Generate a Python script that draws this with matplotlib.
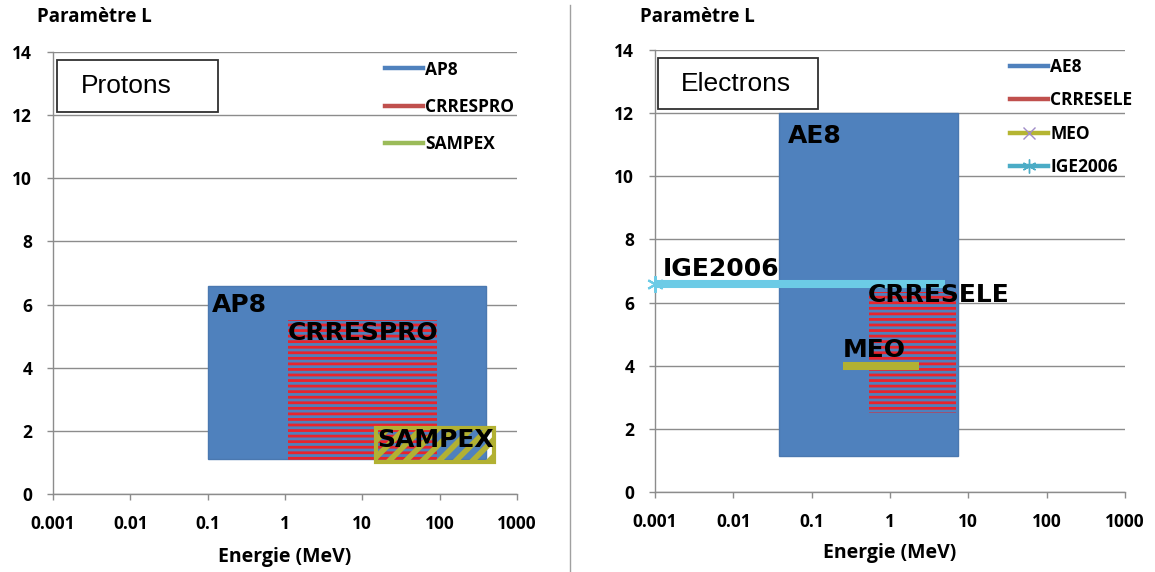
import matplotlib
matplotlib.use('Agg')
import matplotlib.pyplot as plt
from matplotlib.patches import Rectangle
from matplotlib.lines import Line2D
from matplotlib.ticker import FixedLocator, NullLocator

# ---------------- data ----------------
energy_ticks = [0.001, 0.01, 0.1, 1, 10, 100, 1000]
energy_tick_labels = ['0.001', '0.01', '0.1', '1', '10', '100', '1000']
L_ticks = [0, 2, 4, 6, 8, 10, 12, 14]

proton_models = ['AP8', 'CRRESPRO', 'SAMPEX']
proton_emin = [0.1, 1.1, 15]
proton_emax = [400, 92, 500]
proton_lmin = [1.1, 1.0, 1.0]
proton_lmax = [6.6, 5.5, 2.1]

electron_models = ['AE8', 'CRRESELE']
electron_emin = [0.038, 0.54]
electron_emax = [7.4, 7.0]
electron_lmin = [1.15, 2.5]
electron_lmax = [12.0, 6.35]

meo_energy = [0.25, 2.35]
meo_L = [4.0, 4.0]
ige_energy = [0.001, 5.0]
ige_L = [6.6, 6.6]

# annotation anchor points (energy, L) for the in-plot labels
proton_label_pos = [(0.115, 5.78), (1.08, 4.88), (15.5, 1.5)]
electron_label_pos = {'AE8': (0.05, 11.05), 'CRRESELE': (0.52, 6.03),
                      'MEO': (0.25, 4.29), 'IGE2006': (0.00126, 6.83)}

# ---------------- style ----------------
BLUE = '#4F81BD'
RED = '#E8242C'
OLIVE = '#B2B132'
GRID = '#8C8C8C'
LBL_FONT = 'Open Sans'

W, H = 1155, 572
fig = plt.figure(figsize=(W / 100, H / 100), dpi=100)
plt.rcParams['hatch.linewidth'] = 2.0


def px_axes(l, r, t, b):
    return fig.add_axes([l / W, (H - b) / H, (r - l) / W, (b - t) / H])


def style_axes(ax):
    ax.set_xscale('log')
    ax.set_xlim(energy_ticks[0], energy_ticks[-1])
    ax.set_ylim(L_ticks[0], L_ticks[-1])
    ax.xaxis.set_major_locator(FixedLocator(energy_ticks))
    ax.xaxis.set_minor_locator(NullLocator())
    ax.set_xticklabels(energy_tick_labels)
    ax.set_yticks(L_ticks)
    for s in ['top', 'right']:
        ax.spines[s].set_visible(False)
    for s in ['left', 'bottom']:
        ax.spines[s].set_color(GRID)
        ax.spines[s].set_linewidth(1.0)
    ax.grid(axis='y', color=GRID, linewidth=1.0)
    ax.set_axisbelow(True)
    ax.tick_params(axis='both', direction='out', length=4, width=1,
                   color=GRID, pad=11)
    for lab in ax.get_xticklabels() + ax.get_yticklabels():
        lab.set_fontfamily(LBL_FONT)
        lab.set_fontweight('bold')
        lab.set_fontsize(12.5)
    ax.patch.set_alpha(0)


def hatch_rect(ax, x0, x1, y0, y1, fc, ec, hatch, lw, hlw, z):
    r = Rectangle((x0, y0), x1 - x0, y1 - y0, facecolor=fc, edgecolor=ec,
                  hatch=hatch, linewidth=lw, zorder=z)
    if hasattr(r, 'set_hatch_linewidth'):
        r.set_hatch_linewidth(hlw)
    ax.add_patch(r)
    return r


# ---------------- left: protons ----------------
axL = px_axes(53, 517, 52, 494)
style_axes(axL)

hatch_rect(axL, proton_emin[0], proton_emax[0], proton_lmin[0], proton_lmax[0],
           BLUE, '#4A78B0', None, 1.0, 1.0, 2)
hatch_rect(axL, proton_emin[1], proton_emax[1], proton_lmin[1], proton_lmax[1],
           'none', RED, '---', 0.0, 2.0, 3)
hatch_rect(axL, proton_emin[2], proton_emax[2], proton_lmin[2], proton_lmax[2],
           'none', OLIVE, '//', 3.0, 4.0, 4)

for name, (x, y) in zip(proton_models, proton_label_pos):
    axL.text(x, y, name, fontsize=18, fontweight='bold', family='DejaVu Sans',
             ha='left', va='baseline', color='black', zorder=10)

handlesL = [Line2D([], [], color='#4F81BD', lw=3.2),
            Line2D([], [], color='#C0504D', lw=3.2),
            Line2D([], [], color='#9BBB59', lw=3.2)]
legL = fig.legend(handlesL, proton_models, loc='center left',
                  bbox_to_anchor=(376 / W, 1 - 107 / H), frameon=False,
                  borderpad=0, handlelength=2.2, handletextpad=0.15,
                  labelspacing=1.12,
                  prop={'family': LBL_FONT, 'weight': 'bold', 'size': 12.5})

# ---------------- right: electrons ----------------
axR = px_axes(655, 1125, 50, 492)
style_axes(axR)

hatch_rect(axR, electron_emin[0], electron_emax[0], electron_lmin[0], electron_lmax[0],
           BLUE, '#4A78B0', None, 1.0, 1.0, 2)
hatch_rect(axR, electron_emin[1], electron_emax[1], electron_lmin[1], electron_lmax[1],
           'none', RED, '---', 0.0, 2.0, 3)
axR.plot(meo_energy, meo_L, color=OLIVE, lw=5.8, solid_capstyle='butt', zorder=4)
axR.plot(ige_energy, ige_L, color='#6CCBE6', lw=5.8, solid_capstyle='butt',
         marker=(6, 2, 0), markevery=[0], markersize=12, markeredgewidth=1.5,
         markeredgecolor='#6CCBE6', zorder=5, clip_on=False)

for name, (x, y) in electron_label_pos.items():
    axR.text(x, y, name, fontsize=18, fontweight='bold', family='DejaVu Sans',
             ha='left', va='baseline', color='black', zorder=10)

handlesR = [Line2D([], [], color='#4F81BD', lw=3.2),
            Line2D([], [], color='#C0504D', lw=3.2),
            Line2D([], [], color='#B5B532', lw=3.2, marker='x', markersize=8,
                   markeredgecolor='#A08CC8', markeredgewidth=1.0),
            Line2D([], [], color='#4BACC6', lw=3.2, marker=(6, 2, 0), markersize=10,
                   markeredgecolor='#4BACC6', markeredgewidth=1.0)]
legR = fig.legend(handlesR, ['AE8', 'CRRESELE', 'MEO', 'IGE2006'], loc='center left',
                  bbox_to_anchor=(1001 / W, 1 - 117 / H), frameon=False,
                  borderpad=0, handlelength=2.2, handletextpad=0.15,
                  labelspacing=0.88,
                  prop={'family': LBL_FONT, 'weight': 'bold', 'size': 12.5})

# ---------------- boxes with titles ----------------
for (l, t, r, b, tx, ty, txt) in [(57, 60, 218, 112, 126, 86, 'Protons'),
                                  (658, 58, 818, 109, 736, 84, 'Electrons')]:
    fig.add_artist(Rectangle((l / W, 1 - b / H), (r - l) / W, (b - t) / H,
                             transform=fig.transFigure, facecolor='white',
                             edgecolor='#303030', linewidth=1.3, zorder=20))
    fig.text(tx / W, 1 - ty / H, txt, ha='center', va='center',
             family='Liberation Sans', fontsize=19, zorder=21)

# ---------------- axis titles ----------------
for x in (37, 640):
    fig.text(x / W, 1 - 17 / H, 'Paramètre L', ha='left', va='center',
             family=LBL_FONT, fontweight='bold', fontsize=13.5)
for x, y in ((285, 557), (890, 553)):
    fig.text(x / W, 1 - y / H, 'Energie (MeV)', ha='center', va='center',
             family=LBL_FONT, fontweight='bold', fontsize=14)

# divider
fig.add_artist(Line2D([570 / W, 570 / W], [0, 1 - 5 / H], transform=fig.transFigure,
                      color='#A0A0A0', lw=1.0))

fig.savefig('out.png', dpi=100)
